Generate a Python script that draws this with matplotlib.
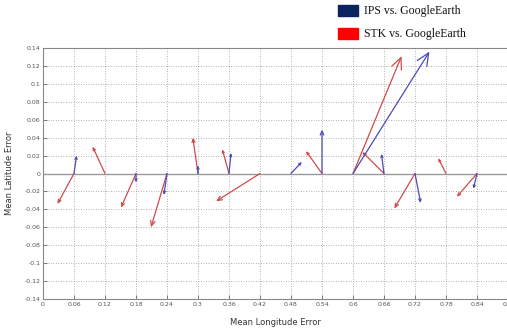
import numpy as np
import matplotlib
matplotlib.use("Agg")
import matplotlib.pyplot as plt
from matplotlib.patches import Rectangle

# arrow origins along the zero line
x0 = [0.06, 0.12, 0.18, 0.24, 0.30, 0.36, 0.42, 0.48, 0.54, 0.60, 0.66, 0.72, 0.78, 0.84]
# IPS vs. GoogleEarth (blue) displacement
ips_dx = [0.005, 0.0, 0.0, -0.006, 0.0, 0.004, 0.0, 0.021, 0.0, 0.148, -0.005, 0.011, 0.0, -0.007]
ips_dy = [0.020, 0.0, -0.010, -0.024, 0.009, 0.023, 0.0, 0.013, 0.049, 0.136, 0.022, -0.033, 0.0, -0.017]
# STK vs. GoogleEarth (red) displacement
stk_dx = [-0.032, -0.024, -0.029, -0.031, -0.010, -0.013, -0.085, 0.0, -0.031, 0.094, -0.042, -0.040, -0.015, -0.039]
stk_dy = [-0.034, 0.030, -0.038, -0.060, 0.040, 0.027, -0.031, 0.0, 0.025, 0.131, 0.024, -0.039, 0.017, -0.026]

xticks = np.round(np.arange(0, 0.91, 0.06), 2)
yticks = np.round(np.arange(-0.14, 0.141, 0.02), 2)

fig = plt.figure(figsize=(5.07, 3.31), dpi=100)
ax = fig.add_axes([43 / 507, 32 / 331, 465 / 507, 251 / 331])
ax.set_xlim(0, 0.9)
ax.set_ylim(-0.14, 0.14)

ax.set_xticks(xticks)
ax.set_yticks(yticks)
ax.set_xticklabels(['%g' % t for t in xticks])
ax.set_yticklabels(['%g' % t for t in yticks])
ax.tick_params(direction='in', length=3, width=0.6, labelsize=4.5,
               colors='#666666', labelcolor='#555555', pad=2)
ax.grid(True, linestyle=(0, (1, 2)), color='#999999', linewidth=0.6)
for s in ax.spines.values():
    s.set_color('#888888')
    s.set_linewidth(0.8)
ax.axhline(0, color='#999999', lw=1.0)

ax.set_xlabel('Mean Longitude Error', fontsize=6, color='#333333', labelpad=8)
ax.set_ylabel('Mean Latitude Error', fontsize=6, color='#333333', labelpad=7)


def arrows(dx, dy, color):
    # px per data unit
    sx = 465 / 0.9
    sy = 251 / 0.28
    for x, u, v in zip(x0, dx, dy):
        if u == 0 and v == 0:
            continue
        n = np.hypot(u * sx, v * sy)
        hl = min(max(n * 0.065, 1.6), 9.0)  # points
        hw = hl * 0.45
        ax.annotate('', xy=(x + u, v), xytext=(x, 0),
                    arrowprops=dict(arrowstyle='->,head_length=%.2f,head_width=%.2f' % (hl, hw),
                                    mutation_scale=1, color=color, lw=0.9,
                                    shrinkA=0, shrinkB=0))


arrows(stk_dx, stk_dy, '#d04a4a')
arrows(ips_dx, ips_dy, '#4a4ab8')

# legend drawn at the top right, above the axes
fig.patches.append(Rectangle((338 / 507, 1 - 16 / 331), 20 / 507, 11 / 331,
                             transform=fig.transFigure, color='#0b2160'))
fig.patches.append(Rectangle((338 / 507, 1 - 39 / 331), 20 / 507, 11 / 331,
                             transform=fig.transFigure, color='#ff0000'))
fig.text(364 / 507, 1 - 11 / 331, 'IPS vs. GoogleEarth', family='Liberation Serif',
         fontsize=8.5, va='center', ha='left', color='#111111')
fig.text(364 / 507, 1 - 34 / 331, 'STK vs. GoogleEarth', family='Liberation Serif',
         fontsize=8.5, va='center', ha='left', color='#111111')

fig.savefig('out.png', dpi=100)
